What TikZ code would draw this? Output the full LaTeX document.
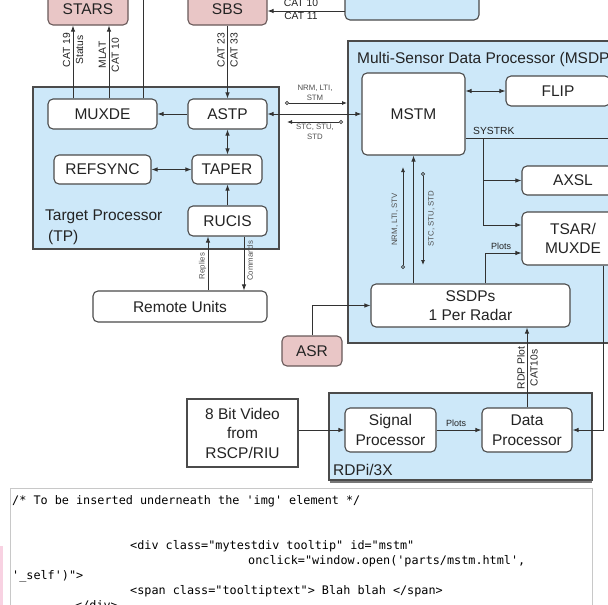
\documentclass[tikz,border=0pt]{standalone}
\usepackage{fontspec}
\setmainfont{Liberation Sans}
\newfontfamily\codefont{DejaVu Sans Mono}
\usetikzlibrary{arrows.meta,calc}
\definecolor{bluefill}{RGB}{205,232,249}
\definecolor{pinkfill}{RGB}{233,198,198}
\definecolor{pinkline}{RGB}{105,90,90}
\definecolor{boxline}{RGB}{75,75,75}
\definecolor{linec}{RGB}{50,50,50}
\definecolor{textc}{RGB}{35,35,35}
\definecolor{graytext}{RGB}{80,80,80}
\definecolor{codebox}{RGB}{200,200,200}
\definecolor{codebar}{RGB}{120,120,120}
\definecolor{pinkstrip}{RGB}{248,210,226}
\newcommand\bigf{\fontsize{15.5}{19.5}\selectfont}
\newcommand\midf{\fontsize{10.3}{13}\selectfont}
\newcommand\smf{\fontsize{9}{10}\selectfont}
\newcommand\tinyf{\fontsize{7.8}{10}\selectfont}
\newcommand\codef{\codefont\fontsize{11.8}{15}\selectfont}
\begin{document}
\begin{tikzpicture}[x=1pt,y=-1pt,
  every node/.style={inner sep=0pt},
  wh/.style 2 args={minimum width=#1pt, minimum height=#2pt},
  box/.style={draw=boxline, line width=1.1pt, rounded corners=5pt, fill=white, text=textc, font=\bigf, align=center},
  pinkbox/.style={box, fill=pinkfill, draw=pinkline},
  region/.style={draw=boxline, line width=1.1pt, fill=bluefill},
  conn/.style={draw=linec, line width=0.9pt},
  arr/.style={conn, -{Latex[length=6pt,width=4.5pt]}},
  dbl/.style={conn, {Latex[length=6pt,width=4.5pt]}-{Latex[length=6pt,width=4.5pt]}},
  circarr/.style={conn, line width=0.8pt, {Circle[open,length=4pt,width=4pt]}-{Latex[length=5pt,width=4pt]}},
  lbl/.style={font=\midf, text=textc, align=center},
  smlbl/.style={font=\smf, text=textc, align=center},
  tinylbl/.style={font=\tinyf, text=graytext, align=center},
  title/.style={font=\bigf, text=textc},
  code/.style={font=\codef, text=black, anchor=base west}
]
\useasboundingbox (0,0) rectangle (608,605);
\fill[white] (0,0) rectangle (608,605);

% regions
\node[region, wh={134}{45}, rounded corners=5pt] (topbox) at (412,-2.5) {};
\node[region, wh={312}{302}] (MSDP) at (504,192) {};
\node[region, wh={246}{162}] (TP) at (156,168) {};
\node[region, wh={263}{87}] (RDPi) at (460.5,436.5) {};

\node[title, anchor=base west] (msdptitle) at (357,63) {Multi-Sensor Data Processor (MSDP)};
\node[title, anchor=base west] (tptitle1) at (45,220) {Target Processor};
\node[title, anchor=base west] (tptitle2) at (48,241) {(TP)};
\node[title, anchor=base west] (rdptitle) at (333,475) {RDPi/3X};

% boxes
\node[pinkbox, wh={80}{31}] (STARS) at (88,9.5) {STARS};
\node[pinkbox, wh={79}{31}] (SBS) at (227.5,9.5) {SBS};
\node[box, wh={109}{30}] (MUXDE) at (102.5,114) {MUXDE};
\node[box, wh={79}{30}] (ASTP) at (227.5,114) {ASTP};
\node[box, wh={97}{29}] (REFSYNC) at (102.5,169.5) {REFSYNC};
\node[box, wh={70}{29}] (TAPER) at (227,169.5) {TAPER};
\node[box, wh={79}{30}] (RUCIS) at (227.5,221) {RUCIS};
\node[box, wh={103}{82}] (MSTM) at (413.5,114) {MSTM};
\node[box, wh={104}{30}] (FLIP) at (558,91) {FLIP};
\node[box, wh={102}{29}] (AXSL) at (573,180.5) {AXSL};
\node[box, wh={102}{53}] (TSAR) at (573,238.5) {TSAR/\\MUXDE};
\node[box, wh={199}{43}] (SSDPs) at (470.5,305.5) {SSDPs\\1 Per Radar};
\node[pinkbox, wh={60}{30}] (ASR) at (312,351) {ASR};
\node[box, wh={174}{31}] (Remote) at (180,306.5) {Remote Units};
\node[box, wh={91}{44}] (Signal) at (390.5,430) {Signal\\Processor};
\node[box, wh={90}{44}] (Data) at (527,430) {Data\\Processor};
\node[box, wh={111}{68}, rounded corners=0pt] (Video) at (242.5,433) {8 Bit Video\\from\\RSCP/RIU};

% coordinates
\coordinate (m1) at ([xshift=-29.5pt]MUXDE.north);
\coordinate (m2) at ([xshift=6.5pt]MUXDE.north);
\coordinate (m3) at ([xshift=40.5pt]MUXDE.north);
\coordinate (topend) at (143,-3);
\coordinate (cat) at (345,11);
\coordinate (s1a) at (285,103);
\coordinate (s1b) at (347,103);
\coordinate (s2a) at (343,122);
\coordinate (s2b) at (287,122);
\coordinate (sysR) at (615,138);
\coordinate (br) at (483,138);
\coordinate (v1a) at (403,269);
\coordinate (v1b) at (403,167);
\coordinate (v2a) at (423,172);
\coordinate (v2b) at (423,265);
\coordinate (rep) at ([xshift=-19.5pt]RUCIS.south);
\coordinate (cmd) at ([xshift=16.5pt]RUCIS.south);
\coordinate (pl) at ([xshift=14.5pt]SSDPs.north);
\coordinate (td) at ([xshift=30pt]TSAR.south);

% connectors
\draw[arr] (m1) -- (m1 |- STARS.south);
\draw[arr] (m2) -- (m2 |- STARS.south);
\draw[conn] (m3) -- (topend);
\draw[arr] (SBS) -- (ASTP);
\draw[arr] (cat) -- (cat -| SBS.east);
\draw[arr] (ASTP) -- (MUXDE);
\draw[dbl] (ASTP.south) -- (ASTP.south |- TAPER.north);
\draw[dbl] (REFSYNC) -- (TAPER);
\draw[arr] (RUCIS.north) -- (RUCIS.north |- TAPER.south);
\draw[dbl] (ASTP) -- (MSTM);
\draw[circarr] (s1a) -- (s1b);
\draw[circarr] (s2a) -- (s2b);
\draw[dbl] (MSTM.east |- FLIP) -- (FLIP.west);
\draw[conn] (MSTM.east |- sysR) -- (sysR);
\draw[arr] (br) |- ([yshift=13.5pt]TSAR.west);
\draw[arr] (br |- AXSL) -- (AXSL.west);
\draw[arr] (pl) |- ([yshift=-14.5pt]TSAR.west);
\draw[arr] (td) |- (Data.east);
\draw[arr] (Data.north) -- (Data.north |- SSDPs.south);
\draw[arr] (Signal) -- (Data);
\draw[arr] (Video.east |- Signal) -- (Signal.west);
\draw[arr] (ASR.north) |- (SSDPs.west);
\draw[arr] (SSDPs.north -| MSTM.south) -- (MSTM.south);
\draw[circarr] (v1a) -- (v1b);
\draw[circarr] (v2a) -- (v2b);
\draw[arr] (rep |- Remote.north) -- (rep);
\draw[arr] (cmd) -- (cmd |- Remote.north);

% labels
\node[lbl, rotate=90] (l1) at (73,50) {CAT 19\\Status};
\node[lbl, rotate=90] (l2) at (109,55) {MLAT\\CAT 10};
\node[lbl, rotate=90] (l3) at (227.5,50) {CAT 23\\CAT 33};
\node[lbl] (l4) at (301,3) {CAT 10};
\node[lbl] (l5) at (301,16) {CAT 11};
\node[tinylbl] (l6) at (315,93) {NRM, LTI,\\STM};
\node[tinylbl] (l7) at (315,132) {STC, STU,\\STD};
\node[lbl, anchor=base west] (l8) at (473,134) {SYSTRK};
\node[smlbl] (l9) at (501,246) {Plots};
\node[smlbl] (l10) at (456,423) {Plots};
\node[lbl, rotate=90] (l11) at (527.5,368) {RDP Plot\\CAT10s};
\node[tinylbl, rotate=90] (l12) at (395,219.5) {NRM, LTI, STV};
\node[tinylbl, rotate=90] (l13) at (431.5,218.5) {STC, STU, STD};
\node[tinylbl, rotate=90] (l14) at (202.5,266) {Replies};
\node[tinylbl, rotate=90] (l15) at (250,261) {Commands};

% code panel
\draw[codebar, line width=2.5pt] (330,482) -- (592,482);
\draw[codebox, line width=1pt, fill=white] (10,488) rectangle (592,612);
\fill[pinkstrip] (0,546) rectangle (3,605);
\node[code] (c1) at (12,504) {/* To be inserted underneath the 'img' element */};
\node[code] (c2) at (130,549.5) {<div class="mytestdiv tooltip" id="mstm"};
\node[code] (c3) at (248,564.5) {onclick="window.open('parts/mstm.html',};
\node[code] (c4) at (12,579.5) {'\_self')">};
\node[code] (c5) at (130,594.5) {<span class="tooltiptext"> Blah blah </span>};
\node[code] (c6) at (75,609.5) {</div>};
\end{tikzpicture}
\end{document}
